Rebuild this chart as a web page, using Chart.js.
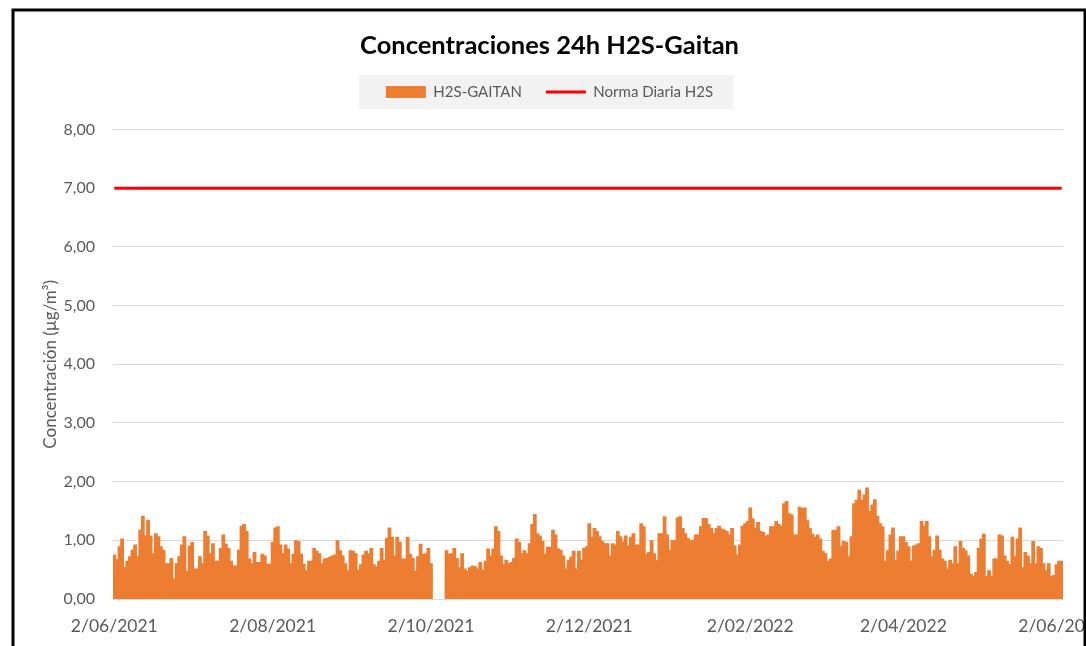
<!DOCTYPE html>
<html>
<head>
<meta charset="utf-8">
<script src="https://cdn.jsdelivr.net/npm/chart.js@4.4.0/dist/chart.umd.min.js"></script>
<style>
    body { margin: 0; background: #fff; }
    #box { width: 1086px; height: 646px; position: relative; }
</style>
</head>
<body>
<div id="box"><canvas id="Grafico"></canvas></div>
<script>
// Serie diaria H2S-GAITAN (µg/m3), del 2/06/2021 al 2/06/2022; null = sin dato
const h2sGaitan = [
    0.75, 0.67, 0.89, 1.02, 0.54, 0.64, 0.72, 0.83, 0.92, 0.72, 1.17, 1.41, 1.07, 1.34, 1.07, 0.77, 1.11, 1.06, 0.89, 0.83, 0.60, 0.60, 0.69,
    0.34, 0.60, 0.72, 0.92, 1.06, 0.47, 0.90, 0.96, 0.51, 0.51, 0.72, 0.60, 1.15, 1.07, 0.77, 0.94, 0.64, 0.64, 0.86, 1.09, 0.93, 0.86, 0.64,
    0.56, 0.56, 0.83, 1.24, 1.27, 1.15, 0.68, 0.60, 0.79, 0.62, 0.62, 0.76, 0.73, 0.59, 0.59, 0.96, 1.21, 1.23, 0.92, 0.77, 0.92, 0.85, 0.60,
    0.76, 0.99, 0.98, 0.76, 0.59, 0.48, 0.64, 0.64, 0.86, 0.81, 0.77, 0.60, 0.68, 0.69, 0.71, 0.73, 0.75, 0.99, 0.82, 0.73, 0.60, 0.48, 0.82,
    0.81, 0.77, 0.49, 0.58, 0.75, 0.81, 0.77, 0.86, 0.58, 0.55, 0.64, 0.86, 0.66, 1.03, 1.21, 1.05, 0.73, 1.05, 0.96, 0.68, 0.68, 1.05, 0.76,
    0.69, 0.47, 0.72, 0.93, 0.76, 0.77, 0.86, 0.60, null, null, null, null, null, 0.82, 0.76, 0.77, 0.86, 0.69, 0.53, 0.77, 0.51, 0.47, 0.53,
    0.56, 0.55, 0.51, 0.62, 0.49, 0.64, 0.85, 0.73, 0.85, 1.23, 1.15, 0.73, 0.58, 0.66, 0.60, 0.62, 0.69, 1.02, 0.96, 0.77, 0.82, 0.77, 0.94,
    1.27, 1.44, 1.11, 1.07, 0.98, 0.76, 0.88, 0.88, 1.17, 1.09, 0.85, 0.83, 0.73, 0.51, 0.66, 0.71, 0.81, 0.51, 0.81, 0.66, 0.86, 0.89, 1.28,
    1.05, 1.20, 1.15, 1.06, 0.98, 0.94, 0.94, 0.73, 0.94, 0.92, 1.15, 1.06, 0.96, 1.07, 0.90, 1.05, 1.11, 0.92, 0.92, 1.28, 1.23, 0.76, 0.79,
    0.99, 0.77, 0.65, 1.11, 1.11, 1.40, 1.09, 0.83, 0.99, 1.00, 1.38, 1.40, 1.20, 1.11, 1.03, 0.99, 1.00, 1.09, 1.09, 1.23, 1.37, 1.37, 1.27,
    1.20, 1.11, 1.20, 1.24, 1.19, 1.17, 1.15, 1.09, 1.20, 0.90, 0.75, 0.92, 1.24, 1.28, 1.32, 1.55, 1.36, 1.20, 1.30, 1.15, 1.13, 1.07, 1.09,
    1.23, 1.23, 1.32, 1.27, 1.24, 1.62, 1.66, 1.45, 1.43, 1.09, 1.09, 1.56, 1.54, 1.55, 1.33, 1.20, 1.10, 1.05, 1.09, 1.02, 0.81, 0.77, 0.64,
    0.68, 1.17, 1.17, 1.23, 0.89, 0.98, 0.96, 0.72, 1.06, 1.62, 1.68, 1.85, 1.68, 1.77, 1.89, 1.49, 1.60, 1.69, 1.41, 1.28, 1.23, 0.64, 0.82,
    1.09, 1.21, 0.66, 0.81, 1.06, 1.06, 0.96, 0.89, 0.64, 0.90, 0.92, 0.94, 1.32, 1.24, 1.32, 1.06, 0.72, 0.83, 1.07, 0.83, 0.68, 0.64, 0.51,
    0.66, 0.60, 0.89, 0.60, 0.98, 0.86, 0.82, 0.73, 0.42, 0.38, 0.45, 0.86, 1.02, 1.10, 0.38, 0.48, 0.38, 0.68, 0.68, 1.09, 1.07, 0.73,
    0.64, 0.58, 1.05, 0.72, 1.02, 1.21, 0.53, 0.79, 0.73, 0.60, 0.98, 0.60, 0.89, 0.86, 0.60, 0.48, 0.60, 0.38, 0.40, 0.58, 0.64, 0.64
];
const normaDiaria = 7; // Norma diaria H2S (µg/m3)
const fechaInicio = [2021, 6, 2]; // año, mes, día del primer dato
const etiquetasEje = ["2/06/2021", "2/08/2021", "2/10/2021", "2/12/2021", "2/02/2022", "2/04/2022", "2/06/2022"];

// Fechas d/mm/aaaa, una por dato
const fechas = h2sGaitan.map((v, i) => {
    const d = new Date(Date.UTC(fechaInicio[0], fechaInicio[1] - 1, fechaInicio[2] + i));
    return d.getUTCDate() + "/" + String(d.getUTCMonth() + 1).padStart(2, "0") + "/" + d.getUTCFullYear();
});

const gris = "#595959";
const fuente = "Lato, 'Open Sans', sans-serif";

// Fondo gris de la leyenda
const fondoLeyenda = {
    id: "fondoLeyenda",
    beforeDraw(chart) {
        const cajas = chart.legend.legendHitBoxes;
        if (!cajas || !cajas.length) return;
        const ctx = chart.ctx;
        const x0 = cajas[0].left - 27;
        const x1 = cajas[cajas.length - 1].left + cajas[cajas.length - 1].width + 20;
        const yc = cajas[0].top + cajas[0].height / 2;
        ctx.save();
        ctx.fillStyle = "#f2f2f2";
        ctx.fillRect(x0, yc - 17, x1 - x0, 34);
        ctx.restore();
    }
};

// Marco negro alrededor del gráfico
const marco = {
    id: "marco",
    afterDraw(chart) {
        const ctx = chart.ctx;
        ctx.save();
        ctx.strokeStyle = "#000";
        ctx.lineWidth = 3;
        ctx.beginPath();
        ctx.moveTo(13, 646);
        ctx.lineTo(13, 10);
        ctx.lineTo(1085, 10);
        ctx.lineTo(1085, 646);
        ctx.stroke();
        ctx.restore();
    }
};

new Chart(document.querySelector("#Grafico"), {
    data: {
        labels: fechas,
        datasets: [
            {
                type: "bar",
                label: "H2S-GAITAN",
                data: h2sGaitan,
                backgroundColor: "#ed7d31",
                borderWidth: 0,
                inflateAmount: 0.6,
                barPercentage: 1,
                categoryPercentage: 1
            },
            {
                type: "line",
                label: "Norma Diaria H2S",
                data: fechas.map(() => normaDiaria),
                borderColor: "#ff0000",
                borderWidth: 3,
                pointRadius: 0,
                fill: false
            }
        ]
    },
    options: {
        responsive: true,
        maintainAspectRatio: false,
        animation: false,
        layout: { padding: { left: 36, right: 23, top: 0, bottom: 0 } },
        plugins: {
            title: {
                display: true,
                text: "Concentraciones 24h H2S-Gaitan",
                color: "#000",
                font: { family: fuente, size: 25.5, weight: "bold" },
                padding: { top: 30, bottom: 0 }
            },
            // espacio vacío entre la leyenda y el área del gráfico
            subtitle: {
                display: true,
                text: "",
                weight: 500,
                font: { size: 10 },
                padding: { top: 0, bottom: 8 }
            },
            legend: {
                position: "top",
                labels: {
                    color: gris,
                    font: { family: fuente, size: 15 },
                    usePointStyle: true,
                    boxWidth: 40,
                    boxHeight: 12,
                    pointStyleWidth: 40,
                    padding: 24,
                    generateLabels: () => [
                        { text: "H2S-GAITAN", fillStyle: "#ed7d31", strokeStyle: "#ed7d31", lineWidth: 0, pointStyle: "rect", fontColor: gris, datasetIndex: 0 },
                        { text: "Norma Diaria H2S", fillStyle: "#ff0000", strokeStyle: "#ff0000", lineWidth: 3, pointStyle: "line", fontColor: gris, datasetIndex: 1 }
                    ]
                }
            },
            tooltip: { enabled: false }
        },
        scales: {
            x: {
                type: "category",
                grid: { display: false, drawTicks: false },
                border: { display: false },
                ticks: {
                    color: gris,
                    font: { family: fuente, size: 17.5 },
                    autoSkip: false,
                    maxRotation: 0,
                    padding: 17,
                    callback: function (value) {
                        const t = this.getLabelForValue(value);
                        return etiquetasEje.includes(t) ? t : null;
                    }
                },
                // las fechas extremas pueden salirse del área
                afterFit: (scale) => {
                    scale.paddingLeft = 0;
                    scale.paddingRight = 0;
                    scale.height = 47;
                }
            },
            y: {
                min: 0,
                max: 8,
                border: { display: false },
                grid: { color: "#d9d9d9", drawTicks: false },
                ticks: {
                    stepSize: 1,
                    color: gris,
                    font: { family: fuente, size: 16 },
                    padding: 18,
                    callback: (v) => v.toFixed(2).replace(".", ",")
                },
                title: {
                    display: true,
                    text: "Concentración (µg/m³)",
                    color: gris,
                    font: { family: fuente, size: 17 },
                    padding: { top: 4, bottom: 4 }
                },
                afterFit: (scale) => { scale.width = 77; }
            }
        }
    },
    plugins: [fondoLeyenda, marco]
});
</script>
</body>
</html>
